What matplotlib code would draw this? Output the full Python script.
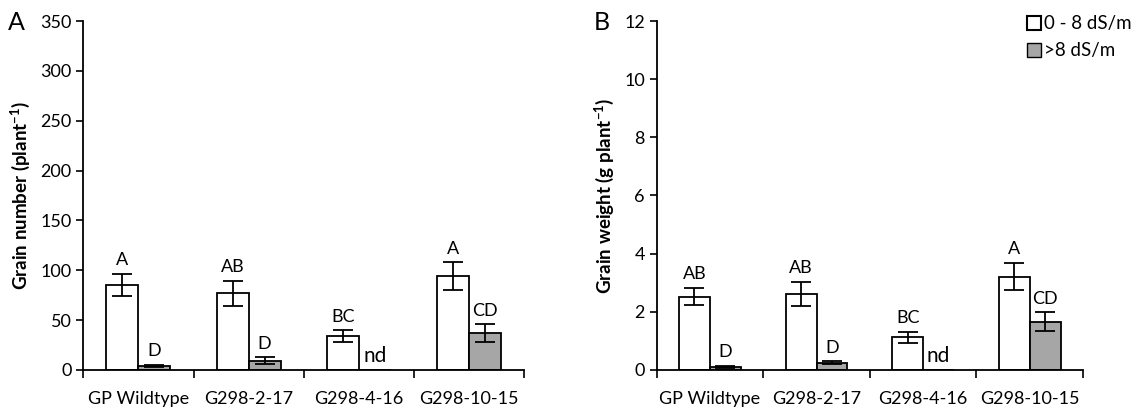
import numpy as np
import matplotlib
matplotlib.use('Agg')
import matplotlib.pyplot as plt
from matplotlib.patches import Patch

plt.rcParams['font.family'] = ['Lato', 'DejaVu Sans']
plt.rcParams['mathtext.fontset'] = 'custom'
plt.rcParams['mathtext.rm'] = 'Lato'
plt.rcParams['mathtext.bf'] = 'Lato:bold'

# Data
lines = ['GP Wildtype', 'G298-2-17', 'G298-4-16', 'G298-10-15']

number_low = [85.3, 76.9, 34.0, 94.0]
number_low_err = [11.0, 12.4, 6.0, 13.8]
number_high = [4.0, 9.5, np.nan, 36.8]
number_high_err = [1.2, 3.3, np.nan, 9.2]
number_low_letters = ['A', 'AB', 'BC', 'A']
number_high_letters = ['D', 'D', 'nd', 'CD']

weight_low = [2.52, 2.62, 1.12, 3.21]
weight_low_err = [0.30, 0.42, 0.20, 0.47]
weight_high = [0.10, 0.25, np.nan, 1.66]
weight_high_err = [0.04, 0.05, np.nan, 0.33]
weight_low_letters = ['AB', 'AB', 'BC', 'A']
weight_high_letters = ['D', 'D', 'nd', 'CD']

series_names = ['0 - 8 dS/m', '>8 dS/m']


def draw_panel(ax, low, low_err, high, high_err, low_lab, high_lab, ymax, ystep, ylabel):
    x = np.arange(len(lines))
    w = 0.29
    ax.bar(x - w / 2, low, w, color='white', edgecolor='black', linewidth=1.3)
    ax.errorbar(x - w / 2, low, yerr=low_err, fmt='none', ecolor='black',
                elinewidth=1.3, capsize=7, capthick=1.3)
    hv = np.nan_to_num(np.array(high, dtype=float))
    he = np.nan_to_num(np.array(high_err, dtype=float))
    ax.bar(x + w / 2, hv, w, color='#a6a6a6', edgecolor='black', linewidth=1.3)
    ok = ~np.isnan(np.array(high, dtype=float))
    ax.errorbar((x + w / 2)[ok], hv[ok], yerr=he[ok], fmt='none', ecolor='black',
                elinewidth=1.3, capsize=7, capthick=1.3)

    for i in range(len(lines)):
        ax.annotate(low_lab[i], (x[i] - w / 2, low[i] + low_err[i]),
                    xytext=(0, 4), textcoords='offset points',
                    ha='center', va='bottom', fontsize=13)
        if high_lab[i] == 'nd':
            ax.annotate('nd', (x[i] + w / 2, 0), xytext=(0, 3),
                        textcoords='offset points', ha='center', va='bottom',
                        fontsize=15)
        else:
            ax.annotate(high_lab[i], (x[i] + w / 2, hv[i] + he[i]),
                        xytext=(0, 4), textcoords='offset points',
                        ha='center', va='bottom', fontsize=13)

    ax.set_xlim(-0.5, len(lines) - 0.5)
    ax.set_ylim(0, ymax)
    ax.set_yticks(np.arange(0, ymax + ystep / 2, ystep))
    ax.set_xticks(x)
    ax.set_xticklabels(lines, fontsize=13)
    ax.set_xticks(np.arange(-0.5, len(lines)), minor=True)
    ax.tick_params(axis='x', which='major', length=0, pad=15)
    ax.tick_params(axis='x', which='minor', length=6, width=1.2, direction='out')
    ax.tick_params(axis='y', length=5, width=1.2, direction='out', labelsize=13)
    ax.spines['top'].set_visible(False)
    ax.spines['right'].set_visible(False)
    ax.spines['left'].set_linewidth(1.3)
    ax.spines['bottom'].set_linewidth(1.3)
    ax.set_ylabel(ylabel, fontsize=13.5, fontweight='bold', labelpad=6)


fig = plt.figure(figsize=(11.4, 4.12), dpi=100)
ax1 = fig.add_axes([0.073, 0.102, 0.387, 0.847])
ax2 = fig.add_axes([0.576, 0.102, 0.374, 0.847])

draw_panel(ax1, number_low, number_low_err, number_high, number_high_err,
           number_low_letters, number_high_letters, 350, 50,
           r'Grain number (plant$^{\mathbf{-1}}$)')
draw_panel(ax2, weight_low, weight_low_err, weight_high, weight_high_err,
           weight_low_letters, weight_high_letters, 12, 2,
           r'Grain weight (g plant$^{\mathbf{-1}}$)')

fig.text(0.007, 0.945, 'A', fontsize=18, va='center')
fig.text(0.521, 0.945, 'B', fontsize=18, va='center')

handles = [Patch(facecolor='white', edgecolor='black', linewidth=1.5),
           Patch(facecolor='#a6a6a6', edgecolor='black', linewidth=1.0)]
fig.legend(handles, series_names, loc='upper left', bbox_to_anchor=(0.889, 0.995),
           frameon=False, fontsize=13.5, handlelength=0.75, handleheight=0.75,
           handletextpad=0.2, labelspacing=0.55, borderaxespad=0.3)

fig.savefig('out.png', dpi=100)
